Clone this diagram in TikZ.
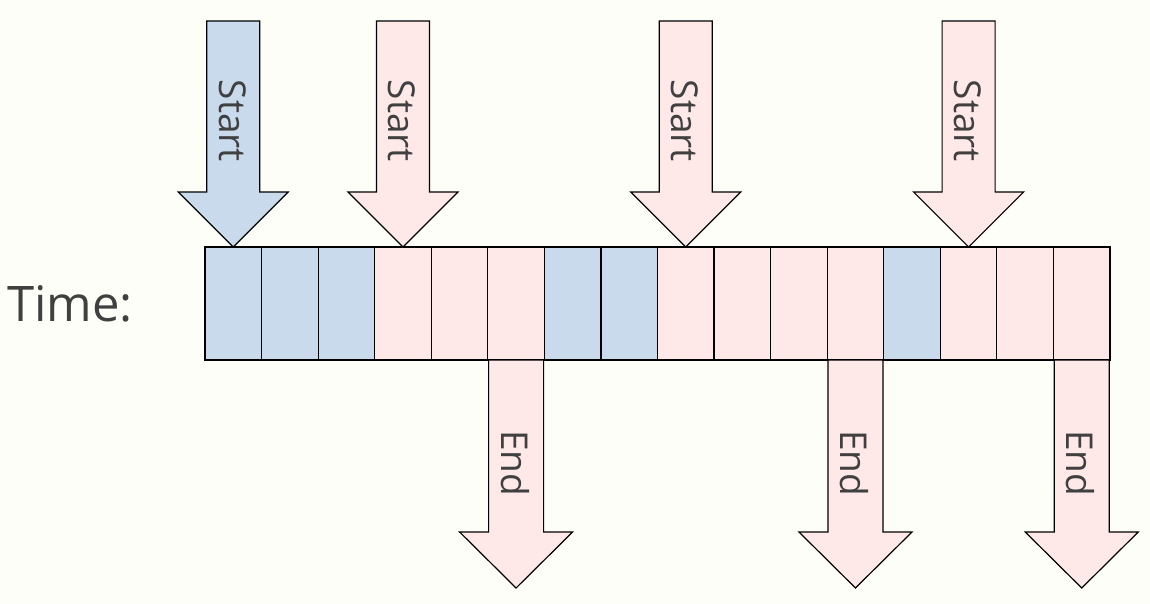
\documentclass[tikz,border=0pt]{standalone}
\usepackage{fontspec}
\setmainfont{Open Sans}
\usetikzlibrary{calc}
\definecolor{bg}{HTML}{FEFEF9}
\definecolor{cblue}{HTML}{C8DAEC}
\definecolor{cpink}{HTML}{FFE8E8}
\definecolor{txt}{HTML}{404040}
\tikzset{
  cell/.style={minimum width=56.6pt, minimum height=113pt, inner sep=0pt, outer sep=0pt},
  bluecell/.style={cell, fill=cblue},
  pinkcell/.style={cell, fill=cpink},
  border/.style={draw=black, line width=1.2pt},
  blockarrow/.style={draw=black, line width=1.2pt, line join=miter},
  lbl/.style={text=txt, font=\fontsize{37}{40}\selectfont, inner sep=0pt, rotate=-90},
}
\begin{document}
\begin{tikzpicture}[x=1pt, y=-1pt]
\fill[bg] (0,0) rectangle (1150,604);
\useasboundingbox (0,0) rectangle (1150,604);
% time bar
\foreach \i/\c in {1/bluecell,2/bluecell,3/bluecell,4/pinkcell,5/pinkcell,6/pinkcell,7/bluecell,8/bluecell,9/pinkcell,10/pinkcell,11/pinkcell,12/pinkcell,13/bluecell,14/pinkcell,15/pinkcell,16/pinkcell}{
  \node[\c] (c\i) at ({205+56.5625*(\i-0.5)}, 303.5) {};
}
\draw[border] (c1.north west) rectangle (c16.south east);
\foreach \i in {2,...,16}{
  \draw[border] (c\i.north west) -- (c\i.south west);
}
\node[text=txt, font=\fontsize{49}{54}\selectfont, inner sep=0pt] (time) at (70, 304) {Time:};
% start arrows
\foreach \i/\f in {1/cblue,4/cpink,9/cpink,14/cpink}{
  \draw[blockarrow, fill=\f] (c\i.north) -- ++(55,-55) -- ++(-28.5,0) -- ++(0,-171) -- ++(-53,0) -- ++(0,171) -- ++(-28.5,0) -- cycle;
  \node[lbl] (s\i) at ($(c\i.north)+(-1,-126)$) {Start};
}
% end arrows
\foreach \i in {6,12,16}{
  \draw[blockarrow, fill=cpink] (c\i.south) ++(-27.5,0) -- ++(0,172) -- ++(-29,0) -- ++(56.5,56) -- ++(56.5,-56) -- ++(-29,0) -- ++(0,-172) -- cycle;
  \node[lbl] (e\i) at ($(c\i.south)+(-1,103)$) {End};
}
\end{tikzpicture}
\end{document}
